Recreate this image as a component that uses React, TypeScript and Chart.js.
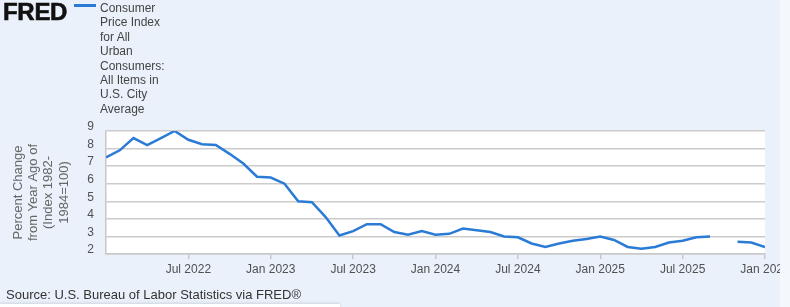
import React, { useEffect, useRef } from "react";
import { Chart, registerables } from "chart.js";

Chart.register(...registerables);

// Monthly CPI, percent change from year ago (Jan 2022 .. Jan 2026)
const cpi2022 = [7.5, 7.9, 8.6, 8.2, 8.6, 9.0, 8.5, 8.25, 8.2, 7.7, 7.15, 6.4];
const cpi2023 = [6.35, 6.0, 5.0, 4.95, 4.1, 3.05, 3.3, 3.7, 3.7, 3.25, 3.1, 3.3];
const cpi2024 = [3.1, 3.15, 3.45, 3.35, 3.25, 3.0, 2.95, 2.6, 2.4, 2.6, 2.75, 2.85];
const cpi2025 = [3.0, 2.8, 2.4, 2.3, 2.4, 2.65, 2.75, 2.95, 3.0, null, 2.7, 2.65];
const cpi2026 = [2.4];

const tickMonths = [6, 12, 18, 24, 30, 36, 42, 48];
const tickLabels = ["Jul 2022", "Jan 2023", "Jul 2023", "Jan 2024", "Jul 2024", "Jan 2025", "Jul 2025", "Jan 2026"];
const yTicksMin = 2;
const yTicksMax = 9;
const yTitle = ["Percent Change", "from Year Ago of", "(Index 1982-", "1984=100)"];
const legendLines = ["Consumer", "Price Index", "for All", "Urban", "Consumers:", "All Items in", "U.S. City", "Average"];
const sourceText = "Source: U.S. Bureau of Labor Statistics via FRED®";

const allValues: (number | null)[] = [...cpi2022, ...cpi2023, ...cpi2024, ...cpi2025, ...cpi2026];

const FONT = "'Liberation Sans', Arial, sans-serif";
const LINE_COLOR = "#2a7bd6";

const plotBg = {
  id: "plotBg",
  beforeDraw(chart: any) {
    const { ctx, chartArea } = chart;
    if (!chartArea) return;
    ctx.save();
    ctx.fillStyle = "#ffffff";
    ctx.fillRect(chartArea.left, chartArea.top, chartArea.right - chartArea.left, chartArea.bottom - chartArea.top);
    ctx.restore();
  },
};

export default function App() {
  const ref = useRef<HTMLCanvasElement | null>(null);

  useEffect(() => {
    if (!ref.current) return;
    const chart = new Chart(ref.current, {
      type: "line",
      data: {
        datasets: [
          {
            label: "CPI",
            data: allValues.map((v, i) => ({ x: i, y: v as any })),
            borderColor: LINE_COLOR,
            borderWidth: 2.5,
            pointRadius: 0,
            tension: 0,
            spanGaps: false,
            fill: false,
          },
        ],
      },
      options: {
        responsive: false,
        animation: false,
        layout: { padding: { left: 0, right: 25, top: 131, bottom: 28 } },
        plugins: {
          legend: { display: false },
          tooltip: { enabled: false },
        },
        scales: {
          x: {
            type: "linear",
            min: 0,
            max: 48,
            afterBuildTicks: (scale: any) => {
              scale.ticks = tickMonths.map((v) => ({ value: v }));
            },
            afterFit: (scale: any) => {
              scale.height = 25;
              scale.paddingLeft = 0;
              scale.paddingRight = 0;
            },
            ticks: {
              autoSkip: false,
              maxRotation: 0,
              padding: 3,
              color: "#505050",
              font: { family: FONT, size: 12 },
              callback: (value: any) => {
                const idx = tickMonths.indexOf(Number(value));
                return idx >= 0 ? tickLabels[idx] : "";
              },
            },
            grid: {
              drawOnChartArea: false,
              drawTicks: true,
              tickLength: 5,
              color: "#c8c8c8",
              lineWidth: 1.5,
            },
            border: { display: true, color: "#c8c8c8", width: 1.5 },
          },
          y: {
            type: "linear",
            min: yTicksMin,
            max: yTicksMax,
            afterFit: (scale: any) => {
              scale.width = 106;
            },
            ticks: {
              stepSize: 1,
              padding: 12,
              labelOffset: -4,
              color: "#505050",
              font: { family: FONT, size: 12 },
            },
            grid: {
              drawTicks: false,
              color: "#cccccc",
              lineWidth: 1.5,
            },
            border: { display: true, color: "#c8c8c8", width: 1.5 },
            title: {
              display: true,
              text: yTitle,
              color: "#666666",
              font: { family: FONT, size: 13, lineHeight: 1.17 },
              padding: { top: 10.8, bottom: 0 },
            },
          },
        },
      },
      plugins: [plotBg],
    });
    return () => chart.destroy();
  }, []);

  return (
    <div
      style={{
        position: "fixed",
        left: 0,
        top: 0,
        width: 790,
        height: 307,
        overflow: "hidden",
        background: "#eaf1fa",
        fontFamily: FONT,
      }}
    >
      <canvas ref={ref} width={790} height={307} style={{ position: "absolute", left: 0, top: 0, width: 790, height: 307 }} />
      <div
        style={{
          position: "absolute",
          left: 3,
          top: 0,
          fontSize: 24,
          lineHeight: "24px",
          fontWeight: 900,
          color: "#111",
          WebkitTextStroke: "0.6px #111",
          letterSpacing: "-0.3px",
        }}
      >
        FRED
      </div>
      <div style={{ position: "absolute", left: 74, top: 4, width: 22, height: 2.5, background: LINE_COLOR }} />
      <div style={{ position: "absolute", left: 100, top: 1, fontSize: 12, lineHeight: "14.4px", color: "#444" }}>
        {legendLines.map((l, i) => (
          <div key={i}>{l}</div>
        ))}
      </div>
      <div style={{ position: "absolute", left: 6, top: 287, fontSize: 13, lineHeight: "15px", color: "#333", whiteSpace: "nowrap" }}>
        {sourceText}
      </div>
      <div style={{ position: "absolute", left: 0, top: 304, width: 340, height: 10, background: "#ffffff", boxShadow: "0 -1px 3px rgba(0,0,0,0.12)" }} />
      <div style={{ position: "absolute", left: 780, top: 0, width: 10, height: 307, background: "#f4f8fd" }} />
    </div>
  );
}
